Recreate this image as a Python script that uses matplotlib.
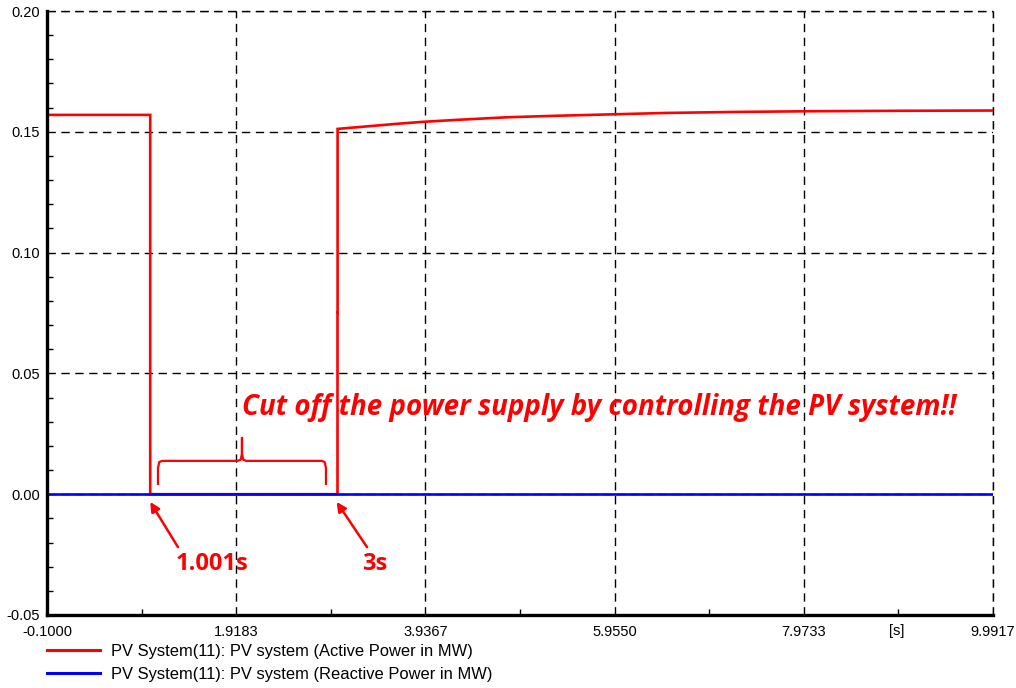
import matplotlib
matplotlib.use("Agg")
import matplotlib.pyplot as plt
import numpy as np
from matplotlib.lines import Line2D

# ---- data ----
t_active = [-0.1, 1.001, 1.001, 2.999, 2.999, 3.0, 3.0, 3.3, 3.6, 3.9, 4.3, 4.8, 5.3, 5.9, 6.5, 7.2, 8.0, 9.0, 9.9917]
p_active = [0.157, 0.157, 0.0, 0.0, 0.075, 0.075, 0.1512, 0.1522, 0.1532, 0.1541, 0.1550, 0.1560, 0.1566, 0.1572, 0.1578, 0.1582, 0.1585, 0.1587, 0.1588]
t_reactive = [-0.1, 9.9917]
q_reactive = [0.0, 0.0]
x_ticks = [-0.1, 1.9183, 3.9367, 5.9550, 7.9733, 9.9917]
x_ticklabels = ["-0.1000", "1.9183", "3.9367", "5.9550", "7.9733", "9.9917"]
y_ticks = [-0.05, 0.0, 0.05, 0.10, 0.15, 0.20]
y_ticklabels = ["-0.05", "0.00", "0.05", "0.10", "0.15", "0.20"]
legend_labels = ["PV System(11): PV system (Active Power in MW)",
                 "PV System(11): PV system (Reactive Power in MW)"]
annotation_text = "Cut off the power supply by controlling the PV system!!"
t_cut, t_restore = 1.001, 3.0

plt.rcParams['font.family'] = ['Liberation Sans', 'DejaVu Sans']

fig = plt.figure(figsize=(10.16, 6.88), dpi=100)
ax = fig.add_axes([47/1016, 1-615/688, (993-47)/1016, (615-11)/688])

ax.plot(t_active, p_active, color='#ff0000', lw=1.9, solid_joinstyle='miter', zorder=3)
ax.plot(t_reactive, q_reactive, color='#0000ff', lw=1.9, zorder=4)

ax.set_xlim(x_ticks[0], x_ticks[-1])
ax.set_ylim(y_ticks[0], y_ticks[-1])
ax.set_xticks(x_ticks)
ax.set_xticklabels(x_ticklabels)
ax.set_yticks(y_ticks)
ax.set_yticklabels(y_ticklabels)
ax.set_xticks([(a + b) / 2 for a, b in zip(x_ticks[:-1], x_ticks[1:])], minor=True)
ax.set_yticks(np.arange(-0.05, 0.2001, 0.01), minor=True)
ax.tick_params(axis='both', which='major', length=0, labelsize=10.5, colors='black', pad=5)
ax.tick_params(axis='both', which='minor', direction='in', length=4, width=1, color='black')
ax.tick_params(axis='x', which='major', pad=7)

ax.grid(True, which='major', color='black', linestyle=(0, (6, 4)), linewidth=1)
for s in ['top', 'right']:
    ax.spines[s].set_visible(False)
for s in ['left', 'bottom']:
    ax.spines[s].set_linewidth(2.4)
    ax.spines[s].set_zorder(5)
ax.axhline(y_ticks[-1], color='black', linestyle=(0, (6, 4)), lw=1, clip_on=False)
ax.axvline(x_ticks[-1], color='black', linestyle=(0, (6, 4)), lw=1, clip_on=False)

# unit label
fig.text(897/1016, 1-631/688, "[s]", ha='center', va='center', fontsize=10.5)

# annotation text
ax.text(0.2065, 0.343, annotation_text, transform=ax.transAxes, fontsize=20,
        color='#ff0000', fontstyle='italic', fontweight='bold',
        family=['Open Sans', 'DejaVu Sans'], ha='left', va='center')

# brace
bx0, bx1 = 1.084, 2.876
bmid = (bx0 + bx1) / 2
ylo, yh, ypk = 0.0038, 0.0138, 0.0233
r = 0.045
brace_x = [bx0, bx0, bx0 + r * 0.3, bx0 + r, bmid - r, bmid - r * 0.3, bmid, bmid,
           bmid, bmid + r * 0.3, bmid + r, bx1 - r, bx1 - r * 0.3, bx1, bx1]
brace_y = [ylo, yh - 0.003, yh - 0.0005, yh, yh, yh + 0.0005, yh + 0.003, ypk,
           yh + 0.003, yh + 0.0005, yh, yh, yh - 0.0005, yh - 0.003, ylo]
ax.plot(brace_x, brace_y, color='#ff0000', lw=1.6, zorder=3, solid_capstyle='butt')

# arrows
arrow_kw = dict(arrowstyle='-|>', color='#ff0000', lw=1.8, mutation_scale=14, shrinkA=0, shrinkB=0)
ax.annotate("", xy=(t_cut, -0.0032), xytext=(t_cut + 0.296, -0.0219), arrowprops=arrow_kw)
ax.annotate("", xy=(t_restore - 0.01, -0.0032), xytext=(t_restore + 0.314, -0.0219), arrowprops=arrow_kw)
label_kw = dict(fontsize=17, fontweight='bold', color='#ff0000', ha='center', va='center',
                family=['Open Sans', 'DejaVu Sans'])
ax.text(t_cut + 0.66, -0.0290, "1.001s", **label_kw)
ax.text(t_restore + 0.40, -0.0290, "3s", **label_kw)

# legend below plot
handles = [Line2D([0], [0], color='#ff0000', lw=2.2), Line2D([0], [0], color='#0000ff', lw=2.2)]
fig.legend(handles, legend_labels, loc='upper left', bbox_to_anchor=(40.5/1016, 1-637/688),
           frameon=False, fontsize=11.9, handlelength=3.2, handletextpad=0.67,
           labelspacing=0.5, borderaxespad=0)

fig.savefig("out.png", dpi=100)
